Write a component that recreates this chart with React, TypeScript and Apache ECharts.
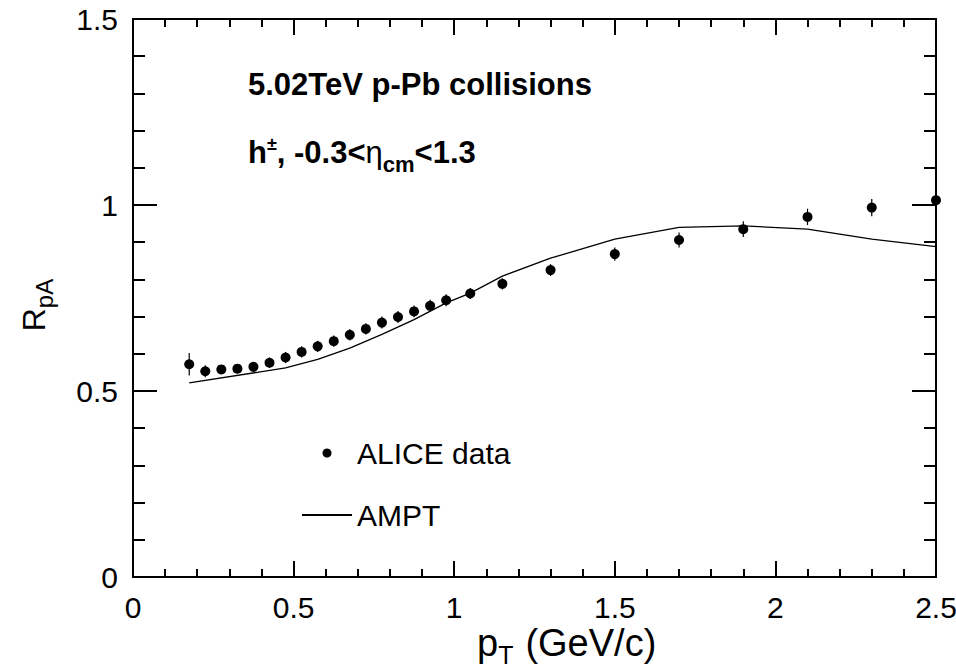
import React, { useEffect, useRef } from "react";
import * as echarts from "echarts";

const FONT = "'Liberation Sans', Arial, Helvetica, sans-serif";

// ALICE data
const alicePt = [0.175, 0.225, 0.275, 0.325, 0.375, 0.425, 0.475, 0.525, 0.575, 0.625, 0.675, 0.725, 0.775, 0.825, 0.875, 0.925, 0.975, 1.05, 1.15, 1.3, 1.5, 1.7, 1.9, 2.1, 2.3, 2.5];
const aliceRpA = [0.572, 0.553, 0.558, 0.560, 0.565, 0.576, 0.590, 0.605, 0.620, 0.634, 0.651, 0.667, 0.684, 0.699, 0.714, 0.729, 0.744, 0.762, 0.788, 0.825, 0.868, 0.906, 0.935, 0.968, 0.993, 1.013];
const aliceErr = [0.03, 0.016, 0.012, 0.012, 0.013, 0.014, 0.015, 0.015, 0.015, 0.015, 0.015, 0.015, 0.016, 0.016, 0.016, 0.016, 0.016, 0.015, 0.015, 0.016, 0.018, 0.02, 0.021, 0.022, 0.023, 0.023];

// AMPT curve
const amptPt = [0.175, 0.475, 0.575, 0.675, 0.775, 0.875, 0.975, 1.05, 1.15, 1.3, 1.5, 1.7, 1.9, 2.1, 2.3, 2.5];
const amptRpA = [0.522, 0.562, 0.585, 0.615, 0.652, 0.692, 0.737, 0.763, 0.809, 0.857, 0.908, 0.940, 0.944, 0.935, 0.908, 0.888];

const xTicks = { min: 0, max: 2.5, interval: 0.5 };
const yTicks = { min: 0, max: 1.5, interval: 0.5 };

function measure(text: string, font: string): number {
  const c = document.createElement("canvas").getContext("2d");
  if (!c) return text.length * 15;
  c.font = font;
  return c.measureText(text).width;
}

export default function App() {
  const ref = useRef<HTMLDivElement>(null);
  useEffect(() => {
    if (!ref.current) return;
    const chart = echarts.init(ref.current, undefined, { renderer: "svg" });
    const aliceData = alicePt.map((x, i) => [x, aliceRpA[i], aliceErr[i]]);
    const amptData = amptPt.map((x, i) => [x, amptRpA[i]]);

    const xBase = {
      type: "value" as const,
      min: xTicks.min,
      max: xTicks.max,
      interval: xTicks.interval,
      axisLine: { show: true, onZero: false, lineStyle: { color: "#000", width: 2 } },
      axisTick: { show: true, inside: true, length: 16, lineStyle: { color: "#000", width: 2 } },
      minorTick: { show: true, splitNumber: 5, length: 8, lineStyle: { color: "#000", width: 2 } },
      splitLine: { show: false },
      minorSplitLine: { show: false },
    };
    const yBase = {
      type: "value" as const,
      min: yTicks.min,
      max: yTicks.max,
      interval: yTicks.interval,
      axisLine: { show: true, onZero: false, lineStyle: { color: "#000", width: 2 } },
      axisTick: { show: true, inside: true, length: 24, lineStyle: { color: "#000", width: 2 } },
      minorTick: { show: true, splitNumber: 5, length: 12, lineStyle: { color: "#000", width: 2 } },
      splitLine: { show: false },
      minorSplitLine: { show: false },
    };

    const tf = { fontFamily: FONT, fill: "#000", verticalAlign: "middle" as const, align: "left" as const };

    // second annotation line, built from pieces
    const FB = "bold 31px 'Liberation Sans'";
    const pieces: { t: string; size: number; weight: string; dy: number }[] = [
      { t: "h", size: 31, weight: "bold", dy: 0 },
      { t: "±", size: 18, weight: "bold", dy: -8 },
      { t: ", -0.3<", size: 31, weight: "bold", dy: 0 },
      { t: "η", size: 31, weight: "normal", dy: 0 },
      { t: "cm", size: 22, weight: "bold", dy: 12 },
      { t: "<1.3", size: 31, weight: "bold", dy: 0 },
    ];
    let cx = 248;
    const line2: any[] = pieces.map((p) => {
      const el = {
        type: "text",
        x: cx,
        y: 152 + p.dy,
        style: { ...tf, text: p.t, fontSize: p.size, fontWeight: p.weight },
      };
      cx += measure(p.t, `${p.weight} ${p.size}px 'Liberation Sans'`);
      return el;
    });
    void FB;

    const pW = measure("p", "38px 'Liberation Sans'");
    const tW = measure("T", "25px 'Liberation Sans'");

    chart.setOption({
      animation: false,
      backgroundColor: "#fff",
      textStyle: { fontFamily: FONT },
      grid: { left: 133, right: 20, top: 19, bottom: 91, outerBoundsMode: "none" },
      xAxis: [
        {
          ...xBase,
          position: "bottom",
          axisLabel: { show: true, fontSize: 30, lineHeight: 30, color: "#000", margin: 15, fontFamily: FONT, showMinLabel: true, showMaxLabel: true },
        },
        { ...xBase, position: "top", axisLabel: { show: false } },
      ],
      yAxis: [
        {
          ...yBase,
          position: "left",
          axisLabel: { show: true, fontSize: 30, color: "#000", margin: 15, fontFamily: FONT, showMinLabel: true, showMaxLabel: true },
        },
        { ...yBase, position: "right", axisLabel: { show: false } },
      ],
      legend: {
        show: true,
        orient: "vertical",
        left: 301,
        top: 437,
        padding: 0,
        itemWidth: 50,
        itemHeight: 9,
        itemGap: 30,
        selectedMode: false,
        textStyle: { fontSize: 30, color: "#000", fontFamily: FONT, lineHeight: 32 },
        data: [
          { name: "ALICE data", icon: "circle", itemStyle: { opacity: 1 } },
          { name: "AMPT", itemStyle: { opacity: 0 } },
        ],
      },
      graphic: [
        {
          type: "text",
          x: 248,
          y: 84,
          style: { ...tf, text: "5.02TeV p-Pb collisions", fontSize: 31, fontWeight: "bold" },
        },
        ...line2,
        { type: "text", x: 477, y: 643, style: { ...tf, text: "p", fontSize: 38 } },
        { type: "text", x: 477 + pW, y: 655, style: { ...tf, text: "T", fontSize: 25 } },
        { type: "text", x: 477 + pW + tW + 12, y: 643, style: { ...tf, text: "(GeV/c)", fontSize: 38 } },
        {
          type: "text",
          x: 34,
          y: 305,
          rotation: Math.PI / 2,
          style: {
            text: "{m|R}{s|pA}",
            align: "center",
            verticalAlign: "middle",
            fill: "#000",
            fontFamily: FONT,
            rich: {
              m: { fontSize: 32, lineHeight: 44, fontFamily: FONT, fill: "#000" },
              s: { fontSize: 24, lineHeight: 16, verticalAlign: "bottom", fontFamily: FONT, fill: "#000" },
            },
          },
        },
      ],
      series: [
        {
          name: "ALICE errors",
          type: "custom",
          xAxisIndex: 0,
          yAxisIndex: 0,
          data: aliceData,
          z: 2,
          silent: true,
          renderItem: (params: any, api: any) => {
            const x = api.value(0);
            const y = api.value(1);
            const e = api.value(2);
            const p1 = api.coord([x, y - e]);
            const p2 = api.coord([x, y + e]);
            return {
              type: "line",
              shape: { x1: p1[0], y1: p1[1], x2: p2[0], y2: p2[1] },
              style: { stroke: "#000", lineWidth: 1.2 },
            };
          },
        },
        {
          name: "ALICE data",
          type: "scatter",
          xAxisIndex: 0,
          yAxisIndex: 0,
          data: aliceData.map((d) => [d[0], d[1]]),
          symbol: "circle",
          symbolSize: 10,
          itemStyle: { color: "#000", opacity: 1 },
          z: 3,
        },
        {
          name: "AMPT",
          type: "line",
          xAxisIndex: 0,
          yAxisIndex: 0,
          data: amptData,
          symbol: "none",
          showSymbol: false,
          smooth: false,
          lineStyle: { color: "#000", width: 1.3 },
          itemStyle: { color: "#000" },
          z: 2,
        },
      ],
    });
    return () => chart.dispose();
  }, []);
  return <div ref={ref} style={{ position: "absolute", left: 0, top: 0, width: 956, height: 668 }} />;
}
